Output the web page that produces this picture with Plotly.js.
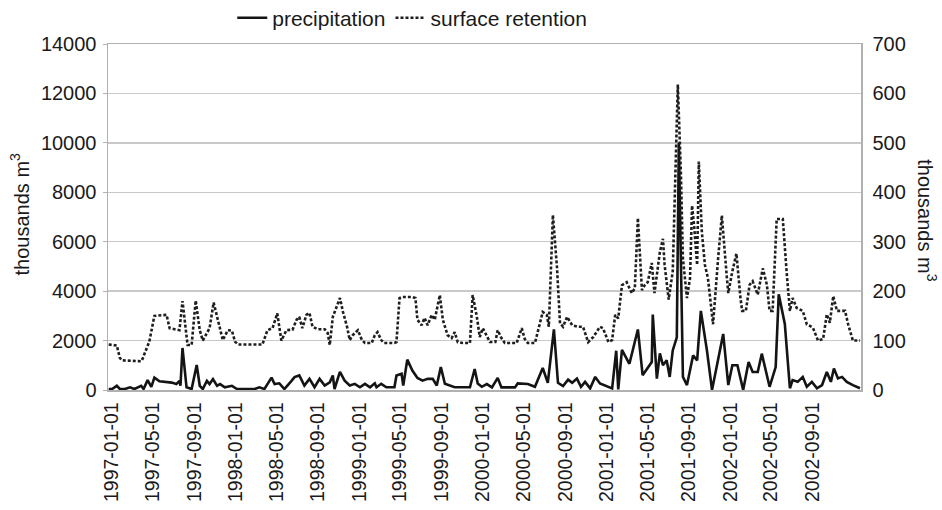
<!DOCTYPE html>
<html>
<head>
<meta charset="utf-8">
<script src="https://cdn.plot.ly/plotly-3.0.1.min.js"></script>
<style>html,body{margin:0;padding:0;background:#fff;}#chart{width:942px;height:510px;}</style>
</head>
<body>
<div id="chart"></div>
<script>
// precipitation (thousands m3, left axis)
const precipDates = [
"1996-12-22","1997-01-01","1997-01-15","1997-01-24","1997-02-08","1997-02-23","1997-03-08","1997-03-17","1997-03-28","1997-04-04",
"1997-04-16","1997-04-27","1997-05-06","1997-05-21","1997-06-26","1997-07-10","1997-07-19","1997-07-22","1997-07-28","1997-08-09",
"1997-08-24","1997-09-08","1997-09-17","1997-09-26","1997-10-08","1997-10-16","1997-10-26","1997-11-07","1997-11-16","1997-11-30",
"1997-12-21","1998-01-05","1998-02-26","1998-03-12","1998-03-27","1998-04-17","1998-04-26","1998-05-10","1998-05-25","1998-06-15",
"1998-06-24","1998-07-08","1998-07-23","1998-08-07","1998-08-22","1998-09-06","1998-09-21","1998-10-06","1998-10-15","1998-10-20",
"1998-11-05","1998-11-19","1998-12-04","1998-12-19","1999-01-03","1999-01-18","1999-02-02","1999-02-16","1999-02-21","1999-03-07",
"1999-03-22","1999-04-15","1999-04-21","1999-05-06","1999-05-11","1999-05-23","1999-06-07","1999-06-22","1999-07-07","1999-07-22",
"1999-08-06","1999-08-18","1999-08-30","1999-09-11","1999-09-26","1999-10-10","1999-11-24","1999-12-08","1999-12-17","1999-12-29",
"2000-01-13","2000-01-28","2000-02-14","2000-02-25","2000-04-05","2000-04-13","2000-05-13","2000-06-03","2000-06-26","2000-07-11",
"2000-07-29","2000-08-10","2000-08-25","2000-09-09","2000-09-21","2000-10-05","2000-10-17","2000-10-29","2000-11-13","2000-11-28",
"2000-12-12","2001-01-17","2001-01-29","2001-02-04","2001-02-15","2001-03-09","2001-04-03","2001-04-17","2001-05-14","2001-05-17",
"2001-05-29","2001-06-07","2001-06-16","2001-06-27","2001-07-06","2001-07-15","2001-07-27","2001-08-02","2001-08-14","2001-08-26",
"2001-09-13","2001-09-25","2001-10-06","2001-10-24","2001-11-08","2001-11-23","2001-12-11","2001-12-26","2002-01-07","2002-01-22",
"2002-02-08","2002-02-24","2002-03-08","2002-03-23","2002-04-04","2002-04-27","2002-05-15","2002-05-24","2002-06-11","2002-06-26",
"2002-07-04","2002-07-19","2002-08-03","2002-08-15","2002-08-30","2002-09-14","2002-09-29","2002-10-13","2002-10-25","2002-11-03",
"2002-11-15","2002-11-27","2002-12-11","2002-12-29","2003-01-19"];
const precipValues = [
40,40,170,40,40,107,40,107,170,40,
400,130,500,350,300,240,370,170,1700,107,
40,1010,170,40,370,240,440,170,240,107,
170,40,40,107,40,500,240,270,40,370,
520,590,180,450,110,450,180,310,590,40,
730,380,180,250,110,250,110,270,110,250,
110,110,590,660,180,1230,790,490,380,450,
450,180,930,250,180,110,110,850,265,130,
240,105,490,105,105,265,240,130,890,290,
2450,290,160,420,290,460,130,330,65,530,
265,65,1590,26,1620,1060,2450,600,1130,3050,
460,1480,1000,1200,530,1600,2130,10000,530,200,
1400,1200,3200,1600,0,1070,2270,200,1000,1000,
0,1130,730,730,1470,130,930,3870,2670,70,
400,330,530,130,330,70,200,730,330,870,
470,530,330,200,70];

// surface retention (thousands m3, right axis)
const retentionDates = [
"1996-12-22","1997-01-15","1997-01-24","1997-01-30","1997-03-28","1997-04-01","1997-04-21","1997-05-06","1997-06-11","1997-06-20",
"1997-07-19","1997-07-28","1997-08-12","1997-08-24","1997-09-05","1997-09-17","1997-09-26","1997-10-16","1997-10-28","1997-11-16",
"1997-11-24","1997-12-09","1997-12-21","1997-12-30","1998-01-08","1998-03-21","1998-04-05","1998-04-20","1998-05-04","1998-05-16",
"1998-05-31","1998-06-18","1998-06-30","1998-07-08","1998-07-17","1998-07-29","1998-08-07","1998-08-16","1998-09-01","1998-09-21",
"1998-09-30","1998-10-06","1998-10-15","1998-11-05","1998-11-14","1998-11-26","1998-12-04","1998-12-13","1998-12-28","1999-01-09",
"1999-01-18","1999-02-07","1999-02-16","1999-02-24","1999-03-07","1999-03-16","1999-04-15","1999-04-21","1999-04-30","1999-05-08",
"1999-06-07","1999-06-16","1999-06-22","1999-07-04","1999-07-13","1999-07-22","1999-08-03","1999-08-12","1999-08-27","1999-09-05",
"1999-09-19","1999-10-01","1999-10-10","1999-10-19","1999-11-03","1999-11-24","1999-12-02","1999-12-14","1999-12-23","2000-01-01",
"2000-01-13","2000-01-22","2000-02-07","2000-02-14","2000-02-25","2000-03-06","2000-04-10","2000-04-25","2000-05-04","2000-05-13",
"2000-06-03","2000-06-12","2000-06-26","2000-07-08","2000-07-14","2000-07-26","2000-08-07","2000-08-16","2000-08-25","2000-09-06",
"2000-09-21","2000-10-08","2000-10-23","2000-11-07","2000-11-22","2000-12-12","2000-12-21","2001-01-06","2001-01-17","2001-01-26",
"2001-02-04","2001-02-15","2001-03-01","2001-03-16","2001-03-25","2001-04-03","2001-04-15","2001-04-23","2001-05-02","2001-05-14",
"2001-05-22","2001-06-07","2001-06-16","2001-06-21","2001-07-03","2001-07-15","2001-07-21","2001-07-30","2001-08-08","2001-08-14",
"2001-08-26","2001-09-04","2001-09-10","2001-09-16","2001-09-25","2001-09-30","2001-10-09","2001-10-18","2001-10-27","2001-11-11",
"2001-11-26","2001-12-07","2001-12-22","2001-12-26","2002-01-07","2002-01-19","2002-01-31","2002-02-05","2002-02-16","2002-02-27",
"2002-03-08","2002-03-23","2002-04-07","2002-04-19","2002-04-27","2002-05-06","2002-05-18","2002-06-05","2002-06-17","2002-06-26",
"2002-07-04","2002-07-16","2002-08-03","2002-08-15","2002-09-02","2002-09-17","2002-10-02","2002-10-13","2002-10-22","2002-11-01",
"2002-11-12","2002-12-06","2002-12-15","2002-12-29","2003-01-19"];
const retentionValues = [
92,90,65,60,58,63,98,150,152,125,
121,180,91,91,181,121,100,125,177,121,
101,121,120,98,92,92,121,125,155,100,
121,122,142,148,125,152,156,128,123,123,
115,91,148,186,158,128,101,111,121,101,
95,95,111,117,101,95,95,97,186,188,
188,186,142,131,146,131,152,142,192,142,
111,105,117,97,95,95,192,150,107,125,
107,97,97,121,105,95,95,125,103,95,
95,121,158,152,128,354,249,135,128,148,
131,128,128,97,107,128,125,97,101,152,
145,212,218,196,206,348,202,212,218,257,
196,279,306,253,183,240,373,618,439,266,
186,226,373,333,253,462,319,253,226,133,
266,353,226,196,240,276,186,160,160,213,
220,193,246,213,160,160,346,346,233,160,
186,166,160,133,126,100,103,153,136,190,
160,160,133,100,100];

const seriesNames = ["precipitation", "surface retention"];
const xTicks = ["1997-01-01","1997-05-01","1997-09-01","1998-01-01","1998-05-01","1998-09-01",
  "1999-01-01","1999-05-01","1999-09-01","2000-01-01","2000-05-01","2000-09-01",
  "2001-01-01","2001-05-01","2001-09-01","2002-01-01","2002-05-01","2002-09-01"];
const leftTicks = [0,2000,4000,6000,8000,10000,12000,14000];
const rightTicks = [0,100,200,300,400,500,600,700];

const FONT = "Liberation Sans, Arial, sans-serif";

const traces = [
  {
    x: precipDates, y: precipValues, name: seriesNames[0], type: "scatter", mode: "lines",
    line: {color: "#141414", width: 2.6}, yaxis: "y"
  },
  {
    x: retentionDates, y: retentionValues, name: seriesNames[1], type: "scatter", mode: "lines",
    line: {color: "#1e1e1e", width: 2.6, dash: "3px,2px"}, yaxis: "y2"
  }
];

const layout = {
  width: 942, height: 510,
  margin: {l: 108, r: 81, t: 44, b: 120, autoexpand: false},
  paper_bgcolor: "#fff", plot_bgcolor: "#fff",
  font: {family: FONT, size: 20, color: "#1a1a1a"},
  showlegend: true,
  legend: {orientation: "h", x: 0.165, xanchor: "left", y: 1.075, yanchor: "middle",
           font: {family: FONT, size: 21, color: "#1a1a1a"}, itemwidth: 30, tracegroupgap: 0,
           bgcolor: "rgba(0,0,0,0)"},
  xaxis: {
    type: "date", range: ["1996-12-20", "2003-01-22"],
    tickvals: xTicks, ticktext: xTicks, tickangle: -90,
    tickfont: {family: FONT, size: 19.5, color: "#1a1a1a"},
    showgrid: false, zeroline: false, showline: true, linecolor: "#b0b0b0", linewidth: 1.5,
    mirror: true, ticks: "", ticklabelstandoff: 3
  },
  yaxis: {
    range: [0, 14000], tickvals: leftTicks, ticktext: leftTicks.map(String),
    tickfont: {family: FONT, size: 20, color: "#1a1a1a"},
    showgrid: true, gridcolor: "#c9c9c9", gridwidth: 1.5, zeroline: false,
    showline: true, linecolor: "#b0b0b0", linewidth: 1.5,
    ticks: "outside", ticklen: 4, tickcolor: "#b0b0b0", ticklabelstandoff: 2
  },
  yaxis2: {
    overlaying: "y", side: "right", range: [0, 700], tickvals: rightTicks, ticktext: rightTicks.map(String),
    tickfont: {family: FONT, size: 20, color: "#1a1a1a"},
    showgrid: false, zeroline: false, showline: true, linecolor: "#b0b0b0", linewidth: 1.5,
    ticks: "", ticklabelstandoff: 6
  },
  annotations: [
    {text: "thousands m<sup>3</sup>", xref: "paper", yref: "paper", x: -0.117, y: 0.51,
     xanchor: "center", yanchor: "middle",
     textangle: -90, showarrow: false, font: {family: FONT, size: 20, color: "#1a1a1a"}},
    {text: "thousands m<sup>3</sup>", xref: "paper", yref: "paper", x: 1.088, y: 0.49,
     xanchor: "center", yanchor: "middle",
     textangle: 90, showarrow: false, font: {family: FONT, size: 20, color: "#1a1a1a"}}
  ]
};

Plotly.newPlot("chart", traces, layout, {displayModeBar: false, staticPlot: true});
</script>
</body>
</html>
